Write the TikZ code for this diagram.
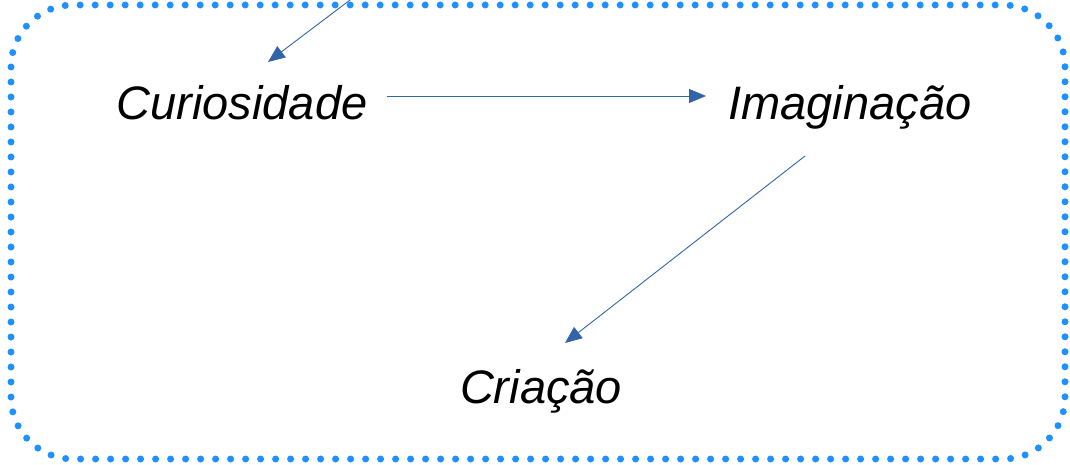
\documentclass[tikz,border=0pt]{standalone}
\usepackage{fontspec}
\setmainfont{Liberation Sans}
\usetikzlibrary{arrows.meta}
\definecolor{dotblue}{RGB}{30,144,255}
\definecolor{arrblue}{RGB}{50,100,168}
\tikzset{
  word/.style={font=\fontsize{47}{56}\selectfont\itshape, anchor=base, inner sep=0pt},
  conn/.style={draw=arrblue, line width=0.9pt, -{Triangle[length=17pt,width=14pt,fill=arrblue]}},
  frame/.style={draw=dotblue, line width=7pt, line cap=round, dash pattern=on 0pt off 15pt, rounded corners=62pt}
}
\begin{document}
\begin{tikzpicture}[x=1pt,y=-1pt]
\useasboundingbox (0,0) rectangle (1070,465);
\draw[frame] (11,5) rectangle (1065,459);
\node[word] (cur) at (242,120) {Curiosidade};
\node[word] (ima) at (850,120) {Imaginação};
\node[word] (cri) at (541,403) {Criação};
\coordinate (top) at (391,-31);
\coordinate (curin) at (268,62);
\coordinate (a1s) at (387,96);
\coordinate (a1e) at (706,96);
\coordinate (a2s) at (805,156);
\coordinate (a2e) at (565,343);
\begin{scope}
\clip (0,0) rectangle (1070,465);
\draw[conn] (top) -- (curin);
\end{scope}
\draw[conn] (a1s) -- (a1e);
\draw[conn] (a2s) -- (a2e);
\end{tikzpicture}
\end{document}
